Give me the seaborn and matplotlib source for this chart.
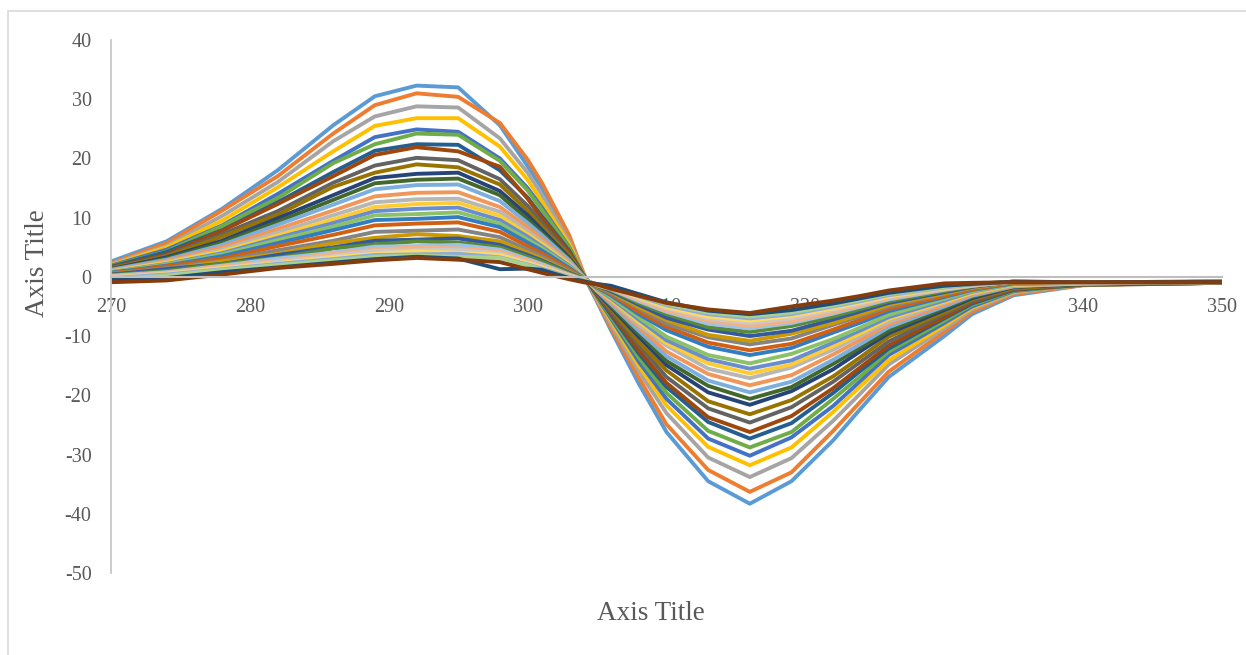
import matplotlib
matplotlib.use("Agg")
import matplotlib.pyplot as plt
from matplotlib.patches import Rectangle
import seaborn as sns
import pandas as pd

# wavelength (nm)
wavelength = [270, 274, 278, 282, 286, 289, 292, 295, 298, 300, 301, 303, 304, 305,
              306, 308, 310, 313, 316, 319, 322, 324, 326, 330, 332, 335, 340, 350]

# one list per spectrum, largest first (Excel series order)
s01 = [2.6, 6.0, 11.5, 18.0, 25.6, 30.5, 32.3, 32.0, 25.6, 18.7, 15.1, 6.3, 0.4, -4.2, -9.0, -18.0, -26.2, -34.5, -38.3, -34.5, -27.6, -22.2, -16.9, -10.0, -6.3, -3.1, -1.4, -1.0]
s02 = [2.3, 5.7, 11.2, 17.0, 24.2, 29.0, 31.0, 30.4, 26.0, 19.8, 16.0, 7.0, 0.8, -4.0, -8.6, -17.0, -24.9, -32.6, -36.3, -33.0, -26.0, -21.0, -16.0, -9.3, -5.9, -2.9, -1.4, -1.0]
s03 = [2.2, 5.2, 10.3, 16.0, 22.9, 27.1, 28.8, 28.6, 23.4, 17.6, 14.0, 6.0, 0.6, -3.8, -8.0, -15.9, -23.0, -30.5, -33.8, -30.6, -24.3, -19.6, -14.8, -8.7, -5.5, -2.7, -1.3, -1.0]
s04 = [2.0, 5.0, 9.5, 15.1, 21.2, 25.5, 26.8, 26.8, 22.0, 16.4, 12.8, 5.5, 0.5, -3.6, -7.4, -15.0, -21.7, -28.7, -31.8, -28.8, -22.8, -18.4, -14.1, -8.2, -5.2, -2.5, -1.3, -1.0]
s05 = [1.9, 4.6, 8.7, 14.0, 19.6, 23.6, 24.9, 24.5, 20.0, 15.0, 11.8, 5.0, 0.4, -3.4, -7.0, -14.3, -20.6, -27.3, -30.2, -27.1, -21.8, -17.5, -13.2, -7.8, -5.0, -2.4, -1.3, -1.0]
s06 = [1.8, 4.3, 8.6, 13.3, 19.2, 22.4, 24.2, 24.0, 19.6, 14.6, 11.4, 4.9, 0.4, -3.3, -6.7, -13.6, -19.6, -26.0, -28.8, -26.2, -20.6, -16.7, -12.6, -7.4, -4.7, -2.3, -1.3, -1.0]
s07 = [1.7, 4.2, 7.9, 12.6, 17.7, 21.3, 22.4, 22.3, 18.0, 13.4, 10.3, 4.4, 0.3, -3.1, -6.4, -12.9, -18.6, -24.5, -27.3, -24.7, -19.6, -15.8, -12.1, -7.0, -4.5, -2.2, -1.3, -1.0]
s08 = [1.6, 3.8, 7.8, 12.3, 17.0, 20.6, 21.9, 21.2, 18.6, 13.2, 10.0, 4.2, 0.3, -3.0, -6.1, -12.4, -17.9, -23.7, -26.2, -23.5, -18.8, -15.2, -11.6, -6.8, -4.3, -2.1, -1.3, -1.0]
s09 = [1.5, 3.6, 7.2, 11.1, 15.9, 18.8, 20.1, 19.7, 16.5, 12.0, 9.2, 3.8, 0.2, -2.8, -5.8, -11.5, -16.9, -22.2, -24.6, -22.0, -17.7, -14.3, -10.9, -6.3, -4.1, -2.0, -1.2, -0.9]
s10 = [1.4, 3.5, 6.8, 10.5, 15.2, 17.6, 19.0, 18.5, 15.6, 11.2, 8.6, 3.6, 0.2, -2.7, -5.4, -11.0, -15.8, -21.0, -23.2, -20.8, -16.8, -13.5, -10.1, -6.0, -3.8, -1.9, -1.2, -0.9]
s11 = [1.3, 3.3, 6.1, 9.9, 13.8, 16.7, 17.4, 17.6, 14.5, 10.4, 8.0, 3.2, 0.1, -2.6, -5.1, -10.1, -14.9, -19.5, -21.6, -19.3, -15.6, -12.5, -9.5, -5.6, -3.6, -1.7, -1.2, -0.9]
s12 = [1.2, 3.1, 5.8, 9.3, 13.0, 15.8, 16.4, 16.6, 13.8, 9.7, 7.5, 3.0, 0.1, -2.5, -4.9, -9.6, -14.2, -18.4, -20.6, -18.6, -14.7, -11.9, -9.1, -5.3, -3.4, -1.6, -1.2, -0.9]
s13 = [1.2, 2.9, 5.4, 8.8, 12.2, 14.8, 15.5, 15.6, 12.8, 9.1, 7.1, 2.8, 0.1, -2.4, -4.6, -9.1, -13.4, -17.5, -19.5, -17.7, -14.0, -11.3, -8.5, -5.0, -3.2, -1.6, -1.1, -0.9]
s14 = [1.0, 2.7, 5.0, 8.1, 11.2, 13.6, 14.2, 14.3, 11.8, 8.4, 6.5, 2.5, 0.0, -2.3, -4.3, -8.5, -12.6, -16.4, -18.3, -16.6, -13.1, -10.6, -8.0, -4.7, -3.0, -1.5, -1.1, -0.9]
s15 = [1.0, 2.5, 4.6, 7.5, 10.4, 12.6, 13.1, 13.2, 11.0, 7.7, 6.0, 2.3, 0.0, -2.2, -4.0, -8.1, -11.6, -15.5, -17.1, -15.3, -12.3, -9.9, -7.6, -4.4, -2.8, -1.4, -1.1, -0.9]
s16 = [0.9, 2.4, 4.3, 7.0, 9.7, 11.8, 12.3, 12.5, 10.3, 7.2, 5.6, 2.1, -0.1, -2.1, -3.8, -7.6, -11.2, -14.6, -16.3, -14.8, -11.7, -9.5, -7.1, -4.2, -2.7, -1.3, -1.1, -0.9]
s17 = [0.8, 2.2, 4.0, 6.6, 9.1, 11.1, 11.5, 11.7, 9.6, 6.8, 5.2, 1.9, -0.1, -2.0, -3.6, -7.2, -10.7, -13.9, -15.5, -14.1, -11.1, -9.0, -6.8, -4.0, -2.5, -1.2, -1.0, -0.9]
s18 = [0.8, 2.1, 3.8, 6.2, 8.5, 10.4, 10.6, 10.9, 9.0, 6.3, 4.9, 1.7, -0.1, -1.9, -3.4, -6.8, -10.1, -13.2, -14.6, -13.0, -10.5, -8.5, -6.4, -3.7, -2.4, -1.2, -1.0, -0.9]
s19 = [0.7, 1.9, 3.5, 5.7, 7.9, 9.6, 9.8, 10.1, 8.4, 5.8, 4.5, 1.5, -0.2, -1.8, -3.1, -6.3, -9.0, -11.8, -13.2, -12.0, -9.4, -7.7, -5.8, -3.4, -2.2, -1.1, -1.0, -0.9]
s20 = [0.6, 1.8, 3.1, 5.2, 7.1, 8.7, 9.0, 9.2, 7.6, 5.2, 4.0, 1.3, -0.2, -1.7, -2.9, -5.9, -8.4, -11.1, -12.4, -11.3, -8.9, -7.2, -5.4, -3.2, -2.1, -1.0, -1.0, -0.9]
s21 = [0.5, 1.5, 2.7, 4.5, 6.1, 7.6, 7.8, 8.0, 6.7, 4.6, 3.5, 1.0, -0.2, -1.6, -2.7, -5.3, -7.9, -10.2, -11.4, -10.4, -8.1, -6.6, -5.0, -2.9, -1.9, -0.9, -1.0, -0.8]
s22 = [0.5, 1.2, 2.6, 3.9, 5.7, 6.6, 7.2, 6.9, 6.0, 4.1, 3.1, 0.8, -0.3, -1.6, -2.5, -5.1, -7.3, -9.8, -10.8, -9.6, -7.8, -6.3, -4.7, -2.8, -1.8, -0.9, -1.0, -0.8]
s23 = [0.4, 1.3, 2.2, 3.7, 5.0, 6.1, 6.3, 6.5, 5.4, 3.7, 2.8, 0.7, -0.3, -1.5, -2.4, -4.7, -6.9, -8.9, -10.0, -9.1, -7.2, -5.8, -4.4, -2.6, -1.7, -0.8, -1.0, -0.8]
s24 = [0.3, 1.0, 2.2, 3.2, 4.8, 5.5, 6.0, 5.8, 5.0, 3.4, 2.6, 0.6, -0.3, -1.5, -2.2, -4.4, -6.3, -8.5, -9.3, -8.3, -6.7, -5.4, -4.1, -2.4, -1.6, -0.8, -1.0, -0.8]
s25 = [0.2, 0.8, 1.9, 3.1, 4.1, 5.1, 5.2, 5.4, 4.6, 3.0, 2.2, 0.4, -0.4, -1.4, -2.1, -4.1, -5.9, -7.9, -8.7, -7.8, -6.2, -5.0, -3.8, -2.2, -1.5, -0.8, -1.0, -0.8]
s26 = [0.1, 0.7, 1.8, 2.7, 3.9, 4.6, 5.0, 4.8, 4.3, 2.8, 2.0, 0.3, -0.4, -1.4, -2.0, -3.9, -5.7, -7.4, -8.3, -7.5, -6.0, -4.8, -3.6, -2.1, -1.5, -0.8, -1.0, -0.8]
s27 = [0.0, 0.6, 1.5, 2.6, 3.5, 4.4, 4.5, 4.6, 3.9, 2.5, 1.8, 0.2, -0.5, -1.3, -1.8, -3.7, -5.3, -7.0, -7.8, -7.0, -5.6, -4.5, -3.4, -2.0, -1.4, -0.8, -0.9, -0.8]
s28 = [-0.1, 0.5, 1.5, 2.3, 3.3, 3.9, 4.3, 4.1, 3.7, 2.3, 1.6, 0.1, -0.5, -1.3, -1.7, -3.5, -5.1, -6.7, -7.4, -6.6, -5.3, -4.3, -3.3, -1.9, -1.3, -0.8, -0.9, -0.8]
s29 = [-0.2, 0.4, 1.3, 2.2, 3.0, 3.7, 3.8, 3.9, 3.3, 2.1, 1.4, 0.0, -0.6, -1.3, -1.6, -3.3, -4.8, -6.3, -7.0, -6.3, -5.0, -4.1, -3.1, -1.8, -1.3, -0.8, -0.9, -0.8]
s30 = [-0.3, 0.2, 1.2, 2.0, 2.8, 3.4, 3.6, 3.4, 3.2, 2.0, 1.2, -0.1, -0.6, -1.2, -1.6, -3.1, -4.6, -6.0, -6.7, -6.0, -4.8, -3.9, -2.9, -1.7, -1.2, -0.8, -0.9, -0.8]
s31 = [-0.5, -0.2, 0.8, 1.6, 2.4, 3.0, 3.4, 3.1, 1.3, 1.4, 1.2, -0.2, -0.7, -1.2, -1.5, -2.9, -4.3, -5.7, -6.3, -5.6, -4.5, -3.6, -2.7, -1.5, -1.2, -0.8, -0.9, -0.8]
s32 = [-0.9, -0.6, 0.4, 1.5, 2.2, 2.8, 3.2, 2.9, 2.5, 1.3, 0.7, -0.4, -0.9, -1.3, -2.0, -3.2, -4.4, -5.5, -6.1, -5.0, -4.0, -3.2, -2.3, -1.1, -1.0, -0.9, -0.9, -0.9]

series = [s01, s02, s03, s04, s05, s06, s07, s08, s09, s10, s11, s12, s13, s14, s15, s16,
          s17, s18, s19, s20, s21, s22, s23, s24, s25, s26, s27, s28, s29, s30, s31, s32]
names = ['Series%d' % (i + 1) for i in range(len(series))]

# Office colour cycle
colors = ['#5B9BD5', '#ED7D31', '#A5A5A5', '#FFC000', '#4472C4', '#70AD47',
          '#255E91', '#9E480E', '#636363', '#997300', '#264478', '#43682B',
          '#7CAFDD', '#F1975A', '#B7B7B7', '#FFCD33', '#698ED0', '#8CC168',
          '#327DC2', '#D26012', '#848484', '#CC9A00', '#335AA1', '#5A8A39',
          '#9DC3E6', '#F4B183', '#C9C9C9', '#FFD966', '#8FAADC', '#A9D18E',
          '#1F4E79', '#843C0C']

rows = []
for name, vals in zip(names, series):
    for x, y in zip(wavelength, vals):
        rows.append({'wavelength': x, 'value': y, 'series': name})
df = pd.DataFrame(rows)

sns.set_style('white')
plt.rcParams['font.family'] = ['Liberation Serif', 'DejaVu Serif']
plt.rcParams['axes.unicode_minus'] = False

fig = plt.figure(figsize=(12.46, 6.55), dpi=100)
ax = fig.add_axes([111 / 1246, 1 - 573 / 655, (1222 - 111) / 1246, (573 - 40) / 655])

sns.lineplot(data=df, x='wavelength', y='value', hue='series', hue_order=names,
             palette=colors, linewidth=2.8, legend=False, estimator=None,
             sort=False, ax=ax, solid_joinstyle='round', solid_capstyle='round')

ax.set_xlim(270, 350)
ax.set_ylim(-50, 40)
ax.set_xticks(range(270, 351, 10))
ax.set_yticks(range(-50, 41, 10))
ax.set_xlabel('')
ax.set_ylabel('')

for s in ['top', 'right']:
    ax.spines[s].set_visible(False)
ax.spines['bottom'].set_position(('data', 0))
ax.spines['bottom'].set_color('#BFBFBF')
ax.spines['bottom'].set_linewidth(1.5)
ax.spines['left'].set_color('#C8C8C8')
ax.spines['left'].set_linewidth(1.3)

ax.tick_params(axis='x', length=0, pad=15.5, labelsize=14.5, labelcolor='#595959')
ax.tick_params(axis='y', length=0, pad=14, labelsize=14.5, labelcolor='#595959')

fig.text(651 / 1246, 1 - 613 / 655, 'Axis Title', ha='center', va='center',
         fontsize=19.5, color='#595959')
fig.text(37 / 1246, 1 - 263 / 655, 'Axis Title', ha='center', va='center',
         rotation=90, fontsize=19.5, color='#595959')

# chart area border
fig.add_artist(Rectangle((8 / 1246, -0.02), 1.1, 1 - 11 / 655 + 0.02,
                         transform=fig.transFigure, fill=False,
                         edgecolor='#D9D9D9', linewidth=1.2))

plt.savefig('out.png', dpi=100)
plt.close()
